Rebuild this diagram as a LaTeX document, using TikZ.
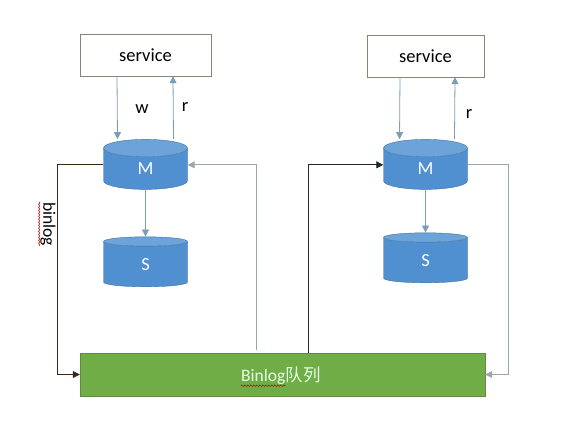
\documentclass[tikz,border=0pt]{standalone}
\usepackage{fontspec}
\setmainfont{Carlito}
\newfontfamily\cjk{Noto Sans CJK SC}
\usetikzlibrary{arrows.meta,positioning,shapes.geometric,decorations.pathmorphing}
\definecolor{db-blue}{HTML}{5090D0}
\definecolor{db-top}{HTML}{6CA3D8}
\definecolor{db-edge}{HTML}{41719C}
\definecolor{bin-green}{HTML}{70AD47}
\definecolor{bin-edge}{HTML}{5F8A42}
\definecolor{svc-edge}{HTML}{7F8A72}
\definecolor{flow-blue}{HTML}{7C9DB8}
\definecolor{flow-grey}{HTML}{9AA6AE}

\begin{document}
\begin{tikzpicture}[x=1pt, y=-1pt, >={Triangle[length=7pt,width=7pt]}, font=\fontsize{18.5}{22}\selectfont,
	   svc/.style={draw=svc-edge, fill=white, minimum width=#1, minimum height=42pt, inner sep=0pt},
	   db/.style={cylinder, shape border rotate=90, aspect=1.1, draw=db-edge, cylinder uses custom fill,
	     cylinder body fill=db-blue, cylinder end fill=db-top, minimum width=84pt, minimum height=50pt,
	     inner sep=0pt, text=white},
	   flow/.style={->, draw=flow-blue, line width=0.8pt},
	   back/.style={->, draw=flow-grey, line width=0.7pt},
	   wavy/.style={draw=red!80!black, line width=0.5pt, decorate, decoration={snake, amplitude=0.7pt, segment length=3pt}}]
	  \useasboundingbox (0,0) rectangle (578,430);
	  % left side
	  \node[svc=131pt] (svc1) at (145.5,55) {service};
	  \node[db, below=63pt of svc1] (m1) {M};
	  \node[db, below=47pt of m1] (s1) {S};
	  % right side
	  \node[svc=117pt] (svc2) at (425.5,56) {service};
	  \node[db, below=62pt of svc2] (m2) {M};
	  \node[db, below=43pt of m2] (s2) {S};
	  % queue
	  \node[draw=bin-edge, fill=bin-green, minimum width=405pt, minimum height=43pt, inner sep=0pt] (q) at (282.5,374.5) {};
	  \node[text=green!10!white, inner sep=0pt, anchor=base east, font=\fontsize{17.5}{21}\selectfont] (qa) at ([xshift=3pt,yshift=-7pt]q.center) {Binlog};
	  \node[text=green!10!white, inner sep=0pt, anchor=base west, font=\fontsize{17.5}{21}\cjk] (qb) at (qa.base east) {队列};
	  \draw[wavy] ([yshift=-1pt]qa.south west) -- ([yshift=-1pt]qa.south east);

	  \draw[flow] ([xshift=-28.5pt]svc1.south) -- ([xshift=-28pt]m1.north);
	  \draw[flow] ([xshift=28pt]m1.north) -- ([xshift=27.5pt]svc1.south);
	  \draw[flow] (m1.south) -- (s1.north);
	  \draw[flow] ([xshift=-25.5pt]svc2.south) -- ([xshift=-26pt]m2.north);
	  \draw[flow] ([xshift=29pt]m2.north) -- ([xshift=29.5pt]svc2.south);
	  \draw[flow] (m2.south) -- (s2.north);

	  \coordinate (lb) at (57,374.5);
	  \coordinate (lg) at (256,350);
	  \coordinate (rb) at (308,353);
	  \coordinate (rg) at (508,374.5);
	  \draw[->, draw=black!70!brown, line width=0.7pt] ([yshift=4pt]m1.west) -| (lb) -- (q.west);
	  \draw[back] (lg) |- ([yshift=4pt]m1.east);
	  \draw[->, draw=black!85, line width=0.8pt] (rb) |- ([yshift=4pt]m2.west);
	  \draw[back] ([yshift=4pt]m2.east) -| (rg) -- (q.east);

	  \node (w1) at (142,109) {w};
	  \node (r1) at (185,107) {r};
	  \node (r2) at (469,114) {r};
	  \node[rotate=-90, inner sep=0pt, font=\fontsize{17.5}{21}\selectfont] (blog) at (48,224) {binlog};
	  \draw[wavy] ([xshift=-1pt]blog.south west) -- ([xshift=-1pt]blog.south east);
	\end{tikzpicture}
\end{document}
